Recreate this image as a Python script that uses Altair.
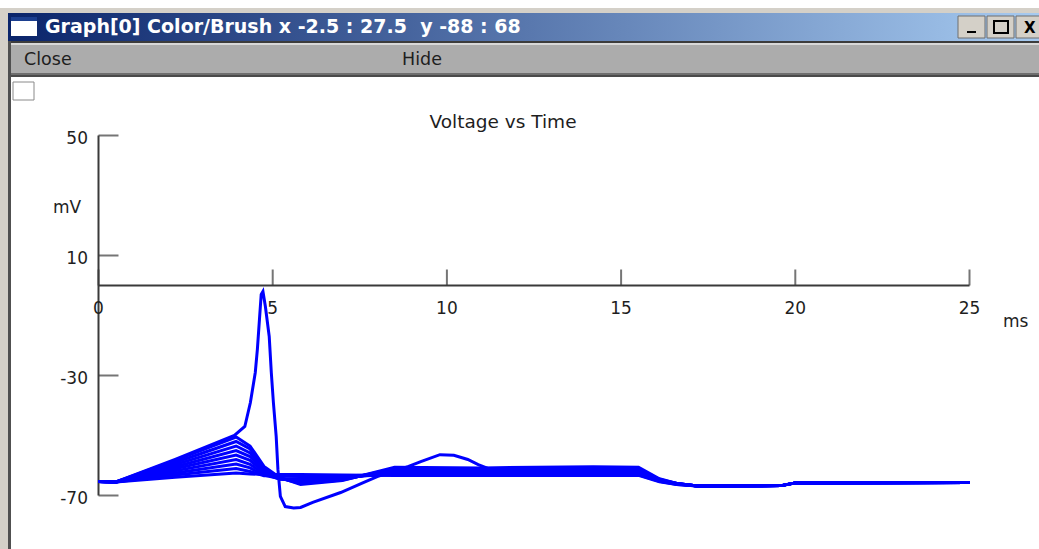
import altair as alt
import pandas as pd

W, H = 1039, 549

# ---- axis values -------------------------------------------------------
x_ticks = [0, 5, 10, 15, 20, 25]          # ms
y_ticks = [-70, -30, 10, 50]              # mV

# ---- sweeps: membrane voltage (mV) against time (ms) --------------------
# common sample times of the sub-threshold sweeps
t_sub = [0.0, 0.5, 2.2, 3.95, 4.35, 4.75, 5.2, 5.8, 7.0, 8.5, 11.0, 14.2,
         15.5, 16.1, 16.6, 17.2, 19.6, 20.0, 25.0]

v_sub1 = [-65.3, -65.5, -58.3, -50.5, -53.5, -60.3, -64.0, -66.3, -65.0, -60.6,
          -60.8, -60.4, -60.6, -64.4, -66.0, -66.8, -66.7, -65.8, -65.7]
v_sub2 = [-65.3, -65.5, -59.0, -52.0, -54.5, -60.8, -64.2, -66.0, -64.8, -61.0,
          -61.2, -61.0, -61.2, -64.6, -66.0, -66.8, -66.7, -65.8, -65.7]
v_sub3 = [-65.3, -65.5, -59.7, -53.5, -55.8, -61.3, -64.3, -65.6, -64.6, -61.4,
          -61.6, -61.5, -61.6, -64.8, -66.0, -66.8, -66.7, -65.8, -65.7]
v_sub4 = [-65.3, -65.5, -60.4, -55.0, -57.0, -61.8, -64.4, -65.2, -64.4, -61.8,
          -62.0, -62.0, -62.0, -64.9, -66.1, -66.8, -66.7, -65.8, -65.7]
v_sub5 = [-65.3, -65.5, -61.1, -56.5, -58.3, -62.3, -64.5, -64.9, -64.2, -62.2,
          -62.3, -62.3, -62.3, -65.0, -66.1, -66.8, -66.7, -65.8, -65.7]
v_sub6 = [-65.3, -65.5, -61.8, -58.0, -59.6, -62.8, -64.5, -64.6, -64.0, -62.6,
          -62.6, -62.6, -62.6, -65.1, -66.2, -66.8, -66.7, -65.8, -65.7]
v_sub7 = [-65.3, -65.5, -62.5, -59.5, -60.8, -63.2, -64.4, -64.3, -63.8, -62.9,
          -62.9, -62.9, -62.9, -65.2, -66.2, -66.8, -66.7, -65.8, -65.7]
v_sub8 = [-65.3, -65.5, -63.2, -61.0, -62.0, -63.4, -63.4, -63.5, -63.4, -63.1,
          -63.1, -63.1, -63.1, -65.3, -66.3, -66.8, -66.7, -65.8, -65.7]
v_sub9 = [-65.3, -65.5, -63.9, -62.5, -62.8, -63.0, -63.0, -63.0, -63.2, -63.3,
          -63.3, -63.3, -63.3, -65.4, -66.3, -66.8, -66.7, -65.8, -65.7]

# the supra-threshold sweep that fires an action potential
t_spike = [0.0, 0.5, 2.2, 3.9, 4.2, 4.36, 4.5, 4.56, 4.62, 4.67, 4.72, 4.79,
           4.9, 4.96, 5.02, 5.1, 5.15, 5.22, 5.36, 5.6, 5.8, 6.15, 6.95, 7.6,
           8.0, 8.9, 9.25, 9.8, 10.2, 10.6, 10.9, 11.25, 11.5, 14.2, 15.5,
           16.1, 16.6, 17.2, 19.6, 20.0, 25.0]
v_spike = [-65.3, -65.5, -58.0, -50.0, -47.0, -39.0, -29.0, -21.3, -11.3, -3.0,
           -2.0, -7.0, -17.0, -29.0, -39.0, -50.3, -61.3, -70.3, -73.7, -74.2,
           -74.0, -72.3, -69.0, -65.7, -63.7, -60.3, -58.7, -56.4, -56.6, -58.0,
           -59.7, -61.3, -62.0, -62.0, -62.0, -64.8, -66.0, -66.8, -66.7, -65.8,
           -65.7]

sweeps = [(t_sub, v) for v in (v_sub1, v_sub2, v_sub3, v_sub4, v_sub5,
                               v_sub6, v_sub7, v_sub8, v_sub9)]
sweeps.append((t_spike, v_spike))

rows = []
for k, (ts, vs) in enumerate(sweeps):
    for t, v in zip(ts, vs):
        rows.append({"sweep": k, "t": t, "v": v})
traces = pd.DataFrame(rows)

# ---- scales ------------------------------------------------------------
xs = alt.Scale(domain=[0, 25], range=[98.5, 969.5], nice=False, zero=False)
ys = alt.Scale(domain=[-70, 50], range=[495.5, 135.5], nice=False, zero=False)

AXIS = "#3a3a3a"
TXT = "#1e1e1e"
FONT = "DejaVu Sans"
one = pd.DataFrame({"k": [0]})


def box(x0, x1, y0, y1, fill, stroke=None, sw=1):
    kw = {"fill": fill}
    if stroke:
        kw.update(stroke=stroke, strokeWidth=sw)
    return alt.Chart(one).mark_rect(**kw).encode(
        x=alt.value(x0), x2=alt.value(x1), y=alt.value(y0), y2=alt.value(y1))


def label(text, x, y, size=16, align="left", weight="normal", color=TXT,
          font=FONT):
    return alt.Chart(one).mark_text(
        text=text, align=align, baseline="middle", fontSize=size,
        fontWeight=weight, color=color, font=font,
    ).encode(x=alt.value(x), y=alt.value(y))


# ---- window frame ------------------------------------------------------
title_grad = alt.Gradient(
    gradient="linear",
    stops=[alt.GradientStop(color="#0a246a", offset=0),
           alt.GradientStop(color="#a6caf0", offset=1)],
    x1=0, x2=1, y1=0, y2=0)

frame = [
    box(0, W, 8, 13, "#d4d0c8"),
    alt.Chart(one).mark_rect(color=title_grad).encode(
        x=alt.value(8), x2=alt.value(W), y=alt.value(13), y2=alt.value(41)),
    box(0, W, 41, 43, "#3c3c3c"),
    box(0, W, 43, 45, "#d8d8d8"),
    box(0, W, 45, 73, "#acacac"),
    box(0, W, 73, 75, "#6e6e6e"),
    box(0, W, 75, 77, "#4a4a4a"),
    box(0, 8, 8, H, "#d4d0c8"),
    box(8, 11, 41, H, "#505050"),
    # window icon
    box(11, 37, 17, 36, "#ffffff"),
    box(11, 37, 17, 21, "#1c3f8f"),
    # caption buttons
    box(958, 985, 16, 38, "#d4d0c8", "#6e6e6e"),
    box(987, 1014, 16, 38, "#d4d0c8", "#6e6e6e"),
    box(1016, 1045, 16, 38, "#d4d0c8", "#6e6e6e"),
    box(967, 976, 31, 33, "#000000"),
    box(994, 1008, 21, 33, "#d4d0c8", "#000000", 2),
    label("X", 1024, 28, size=15, weight="bold", color="#000000"),
    label("Graph[0] Color/Brush x -2.5 : 27.5 \u00a0y -88 : 68", 45, 27,
          size=19, weight="bold", color="#ffffff"),
    label("Close", 24, 60, size=17.5),
    label("Hide", 402, 60, size=17.5),
    # small checkbox in the corner of the canvas
    box(13, 34, 82, 100, "#ffffff", "#8a8a8a"),
]

# ---- axes --------------------------------------------------------------
y_axis = alt.Chart(pd.DataFrame({"t": [0], "lo": [min(y_ticks)],
                                 "hi": [max(y_ticks)]})).mark_rule(
    color=AXIS, strokeWidth=2).encode(
    x=alt.X("t:Q", scale=xs, axis=None),
    y=alt.Y("lo:Q", scale=ys, axis=None), y2="hi:Q")

x_axis = alt.Chart(pd.DataFrame({"lo": [min(x_ticks)], "hi": [max(x_ticks)],
                                 "v": [0]})).mark_rule(
    color=AXIS, strokeWidth=2).encode(
    x=alt.X("lo:Q", scale=xs, axis=None), x2="hi:Q",
    y=alt.Y("v:Q", scale=ys, axis=None))

ydf = pd.DataFrame({"t": [0] * len(y_ticks), "v": y_ticks})
xdf = pd.DataFrame({"t": x_ticks, "v": [0] * len(x_ticks)})

y_tick_marks = alt.Chart(ydf).mark_tick(
    orient="horizontal", size=20, thickness=2, xOffset=10, color=AXIS).encode(
    x=alt.X("t:Q", scale=xs, axis=None), y=alt.Y("v:Q", scale=ys, axis=None))

x_tick_marks = alt.Chart(xdf).mark_tick(
    orient="vertical", size=16, thickness=2, yOffset=-8, color=AXIS).encode(
    x=alt.X("t:Q", scale=xs, axis=None), y=alt.Y("v:Q", scale=ys, axis=None))

# tick labels keep a plain hyphen for negative numbers
y_labels = alt.Chart(ydf).transform_calculate(
    lbl="toString(datum.v)").mark_text(
    align="right", baseline="middle", dx=-10.5, dy=3.5, fontSize=17,
    font=FONT, color=TXT).encode(
    x=alt.X("t:Q", scale=xs, axis=None), y=alt.Y("v:Q", scale=ys, axis=None),
    text="lbl:N")

x_labels = alt.Chart(xdf).transform_calculate(
    lbl="toString(datum.t)").mark_text(
    align="center", baseline="middle", dy=23, fontSize=17,
    font=FONT, color=TXT).encode(
    x=alt.X("t:Q", scale=xs, axis=None), y=alt.Y("v:Q", scale=ys, axis=None),
    text="lbl:N")

titles = [
    label("Voltage vs Time", 503, 122, size=18.5, align="center"),
    label("mV", 53, 208, size=17),
    label("ms", 1003, 322, size=17),
]

# ---- voltage traces ----------------------------------------------------
lines = alt.Chart(traces).mark_line(color="#0000ff", strokeWidth=3).encode(
    x=alt.X("t:Q", scale=xs, axis=None),
    y=alt.Y("v:Q", scale=ys, axis=None),
    detail="sweep:N",
    order="t:Q",
)

chart = alt.layer(
    *frame, y_axis, x_axis, y_tick_marks, x_tick_marks, y_labels, x_labels,
    *titles, lines,
).properties(
    width=W, height=H, padding=0, autosize=alt.AutoSizeParams(type="none"),
    background="#ffffff",
).configure_view(stroke=None)

chart.save("out.html", embed_options={"renderer": "svg", "actions": False})
